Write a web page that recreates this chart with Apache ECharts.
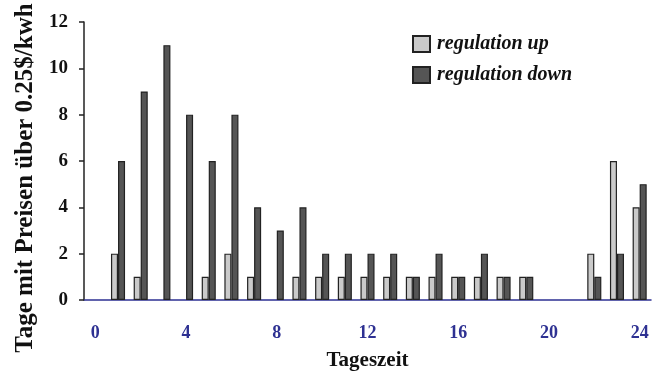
<!DOCTYPE html>
<html>
<head>
<meta charset="utf-8">
<script src="https://cdn.jsdelivr.net/npm/echarts@6/dist/echarts.min.js"></script>
<style>
  html, body { margin: 0; padding: 0; background: #fff; }
  #chart { width: 653px; height: 376px; }
</style>
</head>
<body>
<div id="chart"></div>
<script>
  // Stunden 0..24
  var hours = ['0', '1', '2', '3', '4', '5', '6', '7', '8', '9', '10', '11', '12',
    '13', '14', '15', '16', '17', '18', '19', '20', '21', '22', '23', '24']
  var regUp = [0, 2, 1, 0, 0, 1, 2, 1, 0, 1, 1, 1, 1, 1, 1, 1, 1, 1, 1, 1, 0, 0, 2, 6, 4]
  var regDown = [0, 6, 9, 11, 8, 6, 8, 4, 3, 4, 2, 2, 2, 2, 1, 2, 1, 2, 1, 1, 0, 0, 1, 2, 5]
  var yTicks = { min: 0, max: 12, interval: 2 }

  var serif = '"Liberation Serif", "DejaVu Serif", serif'
  var blue = '#2e3192'

  // Nullwerte ohne Rahmen (sonst sieht man einen Strich auf der Achse)
  function noZero (arr) {
    return arr.map(function (v) { return v === 0 ? null : v })
  }

  var myChart = echarts.init(document.getElementById('chart'))
  myChart.setOption({
    backgroundColor: '#fff',
    animation: false,
    grid: {
      left: 84,
      right: 2,
      top: 22,
      bottom: 73
    },
    legend: {
      orient: 'vertical',
      left: 407,
      top: 29,
      itemWidth: 17,
      itemHeight: 16,
      itemGap: 11,
      icon: 'rect',
      textStyle: {
        fontFamily: serif,
        fontSize: 20,
        fontStyle: 'italic',
        fontWeight: 'bold',
        color: '#111',
        padding: [0, 0, 0, 2]
      },
      data: ['regulation up', 'regulation down']
    },
    xAxis: {
      type: 'category',
      data: hours,
      name: 'Tageszeit',
      nameLocation: 'middle',
      nameGap: 50,
      nameTextStyle: {
        fontFamily: serif,
        fontSize: 21,
        fontWeight: 'bold',
        color: '#111'
      },
      axisLine: { lineStyle: { color: blue, width: 1.5 } },
      axisTick: { interval: 0, length: 6, lineStyle: { color: blue, width: 1.5 } },
      axisLabel: {
        interval: 3,
        margin: 24,
        fontFamily: serif,
        fontSize: 18,
        fontWeight: 'bold',
        color: blue
      }
    },
    yAxis: {
      type: 'value',
      min: yTicks.min,
      max: yTicks.max,
      interval: yTicks.interval,
      name: 'Tage mit Preisen über 0.25$/kwh',
      nameLocation: 'middle',
      nameGap: 46,
      nameTextStyle: {
        fontFamily: serif,
        fontSize: 25,
        fontWeight: 'bold',
        color: '#111',
        padding: [0, 34, 0, 0]
      },
      axisLine: { show: true, lineStyle: { color: '#222', width: 1.5 } },
      axisTick: { show: true, length: 5, lineStyle: { color: '#222', width: 1.5 } },
      splitLine: { show: false },
      axisLabel: {
        margin: 16,
        fontFamily: serif,
        fontSize: 19,
        fontWeight: 'bold',
        color: '#111'
      }
    },
    series: [{
      name: 'regulation up',
      type: 'bar',
      data: noZero(regUp),
      barGap: '0%',
      barCategoryGap: '38%',
      itemStyle: {
        color: '#cacaca',
        borderColor: '#222',
        borderWidth: 1.2
      }
    }, {
      name: 'regulation down',
      type: 'bar',
      data: noZero(regDown),
      barGap: '0%',
      barCategoryGap: '38%',
      itemStyle: {
        color: '#555555',
        borderColor: '#222',
        borderWidth: 1.2
      }
    }]
  })
</script>
</body>
</html>
